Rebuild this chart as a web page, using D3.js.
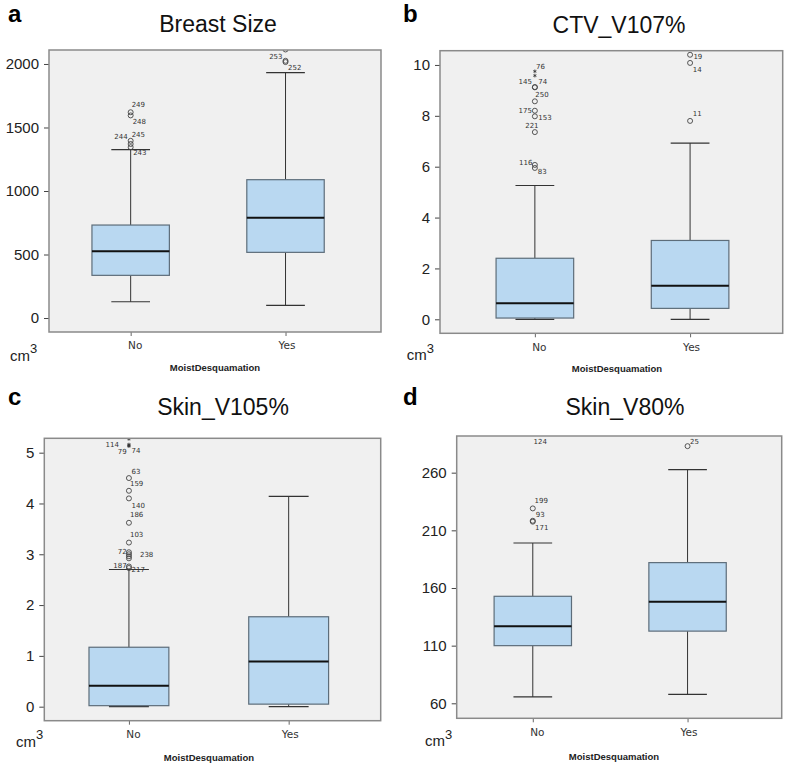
<!DOCTYPE html>
<html>
<head>
<meta charset="utf-8">
<script src="https://cdn.jsdelivr.net/npm/d3@7"></script>
<style>
  body { margin: 0; background: #fff; }
  svg { display: block; }
</style>
</head>
<body>
<svg id="chart" width="787" height="764"></svg>
<script>
// Four SPSS-style boxplots, MoistDesquamation No / Yes.

const GROUPS = ["No", "Yes"];

// [low whisker, Q1, median, Q3, high whisker] per group
const breastSizeBoxes = [[128, 336, 525, 732, 1325], [100, 517, 790, 1089, 1932]];
const ctvV107Boxes = [[0, 0.05, 0.63, 2.4, 5.26], [0, 0.43, 1.32, 3.1, 6.93]];
const skinV105Boxes = [[0, 0.02, 0.41, 1.17, 2.70], [0, 0.05, 0.89, 1.77, 4.14]];
const skinV80Boxes = [[65.5, 110, 126.8, 152.8, 199], [67.8, 122.6, 148, 182, 262.6]];

// outliers: [group, value, case id, extreme (asterisk)]
const breastSizeOutliers = [
  ["No", 1345, "243", false], ["No", 1370, "244", false], ["No", 1395, "245", false],
  ["No", 1595, "248", false], ["No", 1620, "249", false],
  ["Yes", 2015, "252", false], ["Yes", 2025, "253", false], ["Yes", 2114, "", false]
];
const ctvV107Outliers = [
  ["No", 5.95, "83", false], ["No", 6.07, "116", false], ["No", 7.36, "221", false],
  ["No", 7.98, "153", false], ["No", 8.2, "175", false], ["No", 8.57, "250", false],
  ["No", 9.13, "145", false], ["No", 9.12, "74", false],
  ["No", 9.58, "", true], ["No", 9.75, "76", true],
  ["Yes", 7.8, "11", false], ["Yes", 10.08, "14", false], ["Yes", 10.4, "19", false]
];
const skinV105Outliers = [
  ["No", 2.73, "217", false], ["No", 2.76, "187", false], ["No", 2.92, "", false],
  ["No", 2.96, "238", false], ["No", 3.0, "", false], ["No", 3.04, "72", false],
  ["No", 3.23, "103", false], ["No", 3.62, "186", false], ["No", 4.10, "140", false],
  ["No", 4.25, "159", false], ["No", 4.50, "63", false],
  ["No", 5.13, "79", true], ["No", 5.14, "74", true], ["No", 5.16, "114", true],
  ["No", 5.27, "", true]
];
const skinV80Outliers = [
  ["No", 217.5, "171", false], ["No", 218.3, "93", false], ["No", 229, "199", false],
  ["No", 296, "124", false], ["Yes", 283, "25", false]
];

// case-label placement relative to the marker: [dx, dy, anchor]
const breastSizeLabelPos = [
  [2.5, 5.5, "start"], [-3, -6.7, "end"], [1, -6, "start"],
  [2, 6.5, "start"], [1, -7, "start"],
  [2.5, 6, "start"], [-3, -4, "end"], [0, 0, "start"]
];
const ctvV107LabelPos = [
  [3, 4.3, "start"], [-2.5, -2.3, "end"], [-3, -6.5, "middle"],
  [3.5, 1.3, "start"], [-3, 0, "end"], [0.5, -6.7, "start"],
  [-3, -5, "end"], [3.5, -5, "start"],
  [0, 0, "start"], [1.2, -4.7, "start"],
  [2.7, -6.7, "start"], [2.7, 7, "start"], [3.3, 2, "start"]
];
const skinV105LabelPos = [
  [2.7, 1.7, "start"], [-2.3, -0.5, "end"], [0, 0, "start"],
  [11, -1.3, "start"], [0, 0, "start"], [-2.3, -0.6, "end"],
  [1, -7.3, "start"], [1, -7.5, "start"], [2.7, 7.3, "start"],
  [1, -6.5, "start"], [2.7, -6.4, "start"],
  [-2.3, 6.2, "end"], [2.7, 5.4, "start"], [-10, 0, "end"],
  [0, 0, "start"]
];
const skinV80LabelPos = [
  [2.3, 6, "start"], [3, -5.8, "start"], [1.7, -7.5, "start"],
  [0.7, 10.5, "start"], [2.5, -4.5, "start"]
];

const breastSizeTicks = [0, 500, 1000, 1500, 2000];
const ctvV107Ticks = [0, 2, 4, 6, 8, 10];
const skinV105Ticks = [0, 1, 2, 3, 4, 5];
const skinV80Ticks = [60, 110, 160, 210, 260];

const TITLES = ["Breast Size", "CTV_V107%", "Skin_V105%", "Skin_V80%"];
const LETTERS = ["a", "b", "c", "d"];
const X_TITLE = "MoistDesquamation";

// page layout for each panel
const LAYOUT = [
  { letter: [8, 22], title: [218, 32], frame: [49, 50, 381, 332], domain: [-110, 2110],
    pad: 0.572, align: 0.461, cm: [10, 360.5], xTitle: [215, 370.7] },
  { letter: [403, 22], title: [619, 33], frame: [440, 50.7, 782.7, 333.3], domain: [-0.55, 10.56],
    pad: 0.604, align: 0.506, cm: [406.7, 360], xTitle: [617, 372] },
  { letter: [8, 405], title: [223, 415], frame: [44.3, 438.3, 380.7, 720.7], domain: [-0.276, 5.283],
    pad: 0.553, align: 0.479, cm: [16, 746.7], xTitle: [209, 761] },
  { letter: [403, 405], title: [625, 415], frame: [456.7, 436, 781.7, 718.3], domain: [47, 291.8],
    pad: 0.55, align: 0.447, cm: [425, 746], xTitle: [614, 760] }
];

const panels = [
  { boxes: breastSizeBoxes, outliers: breastSizeOutliers, labelPos: breastSizeLabelPos, ticks: breastSizeTicks },
  { boxes: ctvV107Boxes, outliers: ctvV107Outliers, labelPos: ctvV107LabelPos, ticks: ctvV107Ticks },
  { boxes: skinV105Boxes, outliers: skinV105Outliers, labelPos: skinV105LabelPos, ticks: skinV105Ticks },
  { boxes: skinV80Boxes, outliers: skinV80Outliers, labelPos: skinV80LabelPos, ticks: skinV80Ticks }
];

const BOX_FILL = "#b9d8f1";
const BOX_STROKE = "#5d6d7a";
const PLOT_BG = "#f0f0f0";
const FRAME = "#8a8a8a";
const SANS = "'Liberation Sans', Arial, sans-serif";
const SMALL = "'DejaVu Sans', Verdana, sans-serif";

const svg = d3.select("#chart");

panels.forEach((p, i) => drawPanel(p, LAYOUT[i], i));

function drawPanel(p, L, idx) {
  const [x0, y0, x1, y1] = L.frame;
  const g = svg.append("g").attr("class", "panel-" + LETTERS[idx]);

  const x = d3.scalePoint().domain(GROUPS).range([x0, x1]).padding(L.pad).align(L.align);
  const y = d3.scaleLinear().domain(L.domain).range([y1, y0]);
  const boxW = x.step() * 0.5;
  const capW = boxW * 0.5;

  // panel letter + title
  g.append("text")
    .attr("x", L.letter[0]).attr("y", L.letter[1])
    .style("font-family", SANS).style("font-weight", "bold").style("font-size", "24px")
    .attr("fill", "#000")
    .text(LETTERS[idx]);
  g.append("text")
    .attr("x", L.title[0]).attr("y", L.title[1])
    .attr("text-anchor", "middle")
    .style("font-family", SANS).style("font-size", "23px")
    .attr("fill", "#111")
    .text(TITLES[idx]);

  // plot area
  const clipId = "clip-" + idx;
  g.append("clipPath").attr("id", clipId)
    .append("rect").attr("x", x0).attr("y", y0).attr("width", x1 - x0).attr("height", y1 - y0);
  g.append("rect")
    .attr("x", x0).attr("y", y0).attr("width", x1 - x0).attr("height", y1 - y0)
    .attr("fill", PLOT_BG);

  // y axis
  const yAxis = d3.axisLeft(y).tickValues(p.ticks).tickSize(5).tickPadding(5).tickFormat(d3.format("d"));
  const ya = g.append("g").attr("transform", `translate(${x0},0)`).call(yAxis);
  ya.select(".domain").remove();
  ya.selectAll(".tick line").attr("stroke", "#444");
  ya.selectAll(".tick text")
    .style("font-family", SANS).style("font-size", "15px").attr("fill", "#222");

  // x axis ticks + group labels
  const xa = g.append("g").attr("transform", `translate(0,${y1})`)
    .call(d3.axisBottom(x).tickSize(4).tickPadding(6));
  xa.select(".domain").remove();
  xa.selectAll(".tick line").attr("stroke", "#666");
  xa.selectAll(".tick text")
    .attr("dx", d => d === "No" ? 4 : 1)
    .style("font-family", SMALL).style("font-size", "10.5px").attr("fill", "#333");

  const plot = g.append("g").attr("clip-path", `url(#${clipId})`);

  const boxData = GROUPS.map((grp, k) => ({ grp, s: p.boxes[k] }));

  // whiskers
  plot.selectAll("line.whisker")
    .data(boxData.flatMap(d => [[d.grp, d.s[0], d.s[1]], [d.grp, d.s[3], d.s[4]]]))
    .join("line")
      .attr("class", "whisker")
      .attr("x1", d => x(d[0])).attr("x2", d => x(d[0]))
      .attr("y1", d => y(d[1])).attr("y2", d => y(d[2]))
      .attr("stroke", "#333").attr("stroke-width", 1);
  plot.selectAll("line.cap")
    .data(boxData.flatMap(d => [[d.grp, d.s[0]], [d.grp, d.s[4]]]))
    .join("line")
      .attr("class", "cap")
      .attr("x1", d => x(d[0]) - capW / 2).attr("x2", d => x(d[0]) + capW / 2)
      .attr("y1", d => y(d[1])).attr("y2", d => y(d[1]))
      .attr("stroke", "#333").attr("stroke-width", 1.2);

  // boxes
  plot.selectAll("rect.box")
    .data(boxData)
    .join("rect")
      .attr("class", "box")
      .attr("x", d => x(d.grp) - boxW / 2)
      .attr("y", d => y(d.s[3]))
      .attr("width", boxW)
      .attr("height", d => y(d.s[1]) - y(d.s[3]))
      .attr("fill", BOX_FILL)
      .attr("stroke", BOX_STROKE).attr("stroke-width", 1.2);
  plot.selectAll("line.median")
    .data(boxData)
    .join("line")
      .attr("class", "median")
      .attr("x1", d => x(d.grp) - boxW / 2).attr("x2", d => x(d.grp) + boxW / 2)
      .attr("y1", d => y(d.s[2])).attr("y2", d => y(d.s[2]))
      .attr("stroke", "#111").attr("stroke-width", 2);

  // outliers (circles) and extremes (asterisks)
  const pts = p.outliers.map((o, k) => ({ grp: o[0], v: o[1], id: o[2], ext: o[3], pos: p.labelPos[k] }));
  plot.selectAll("circle.outlier")
    .data(pts.filter(d => !d.ext))
    .join("circle")
      .attr("class", "outlier")
      .attr("cx", d => x(d.grp)).attr("cy", d => y(d.v))
      .attr("r", 2.5)
      .attr("fill", "none").attr("stroke", "#444").attr("stroke-width", 0.9);
  plot.selectAll("path.extreme")
    .data(pts.filter(d => d.ext))
    .join("path")
      .attr("class", "extreme")
      .attr("transform", d => `translate(${x(d.grp)},${y(d.v)})`)
      .attr("d", d3.symbol(d3.symbolAsterisk, 9))
      .attr("stroke", "#333").attr("stroke-width", 0.8);

  g.selectAll("text.case")
    .data(pts.filter(d => d.id))
    .join("text")
      .attr("class", "case")
      .attr("x", d => x(d.grp) + d.pos[0])
      .attr("y", d => y(d.v) + d.pos[1])
      .attr("text-anchor", d => d.pos[2])
      .attr("dominant-baseline", "central")
      .style("font-family", SMALL).style("font-size", "7px")
      .attr("fill", "#333")
      .text(d => d.id);

  // frame
  g.append("rect")
    .attr("x", x0).attr("y", y0).attr("width", x1 - x0).attr("height", y1 - y0)
    .attr("fill", "none").attr("stroke", FRAME).attr("stroke-width", 1.5);

  // unit + axis title
  const cm = g.append("text")
    .attr("x", L.cm[0]).attr("y", L.cm[1])
    .style("font-family", SANS).style("font-size", "15px").attr("fill", "#222");
  cm.append("tspan").text("cm");
  cm.append("tspan").attr("dy", -7.5).style("font-size", "13px").text("3");

  g.append("text")
    .attr("x", L.xTitle[0]).attr("y", L.xTitle[1])
    .attr("text-anchor", "middle")
    .style("font-family", SANS).style("font-weight", "bold").style("font-size", "9.5px")
    .attr("fill", "#222")
    .text(X_TITLE);
}
</script>
</body>
</html>
